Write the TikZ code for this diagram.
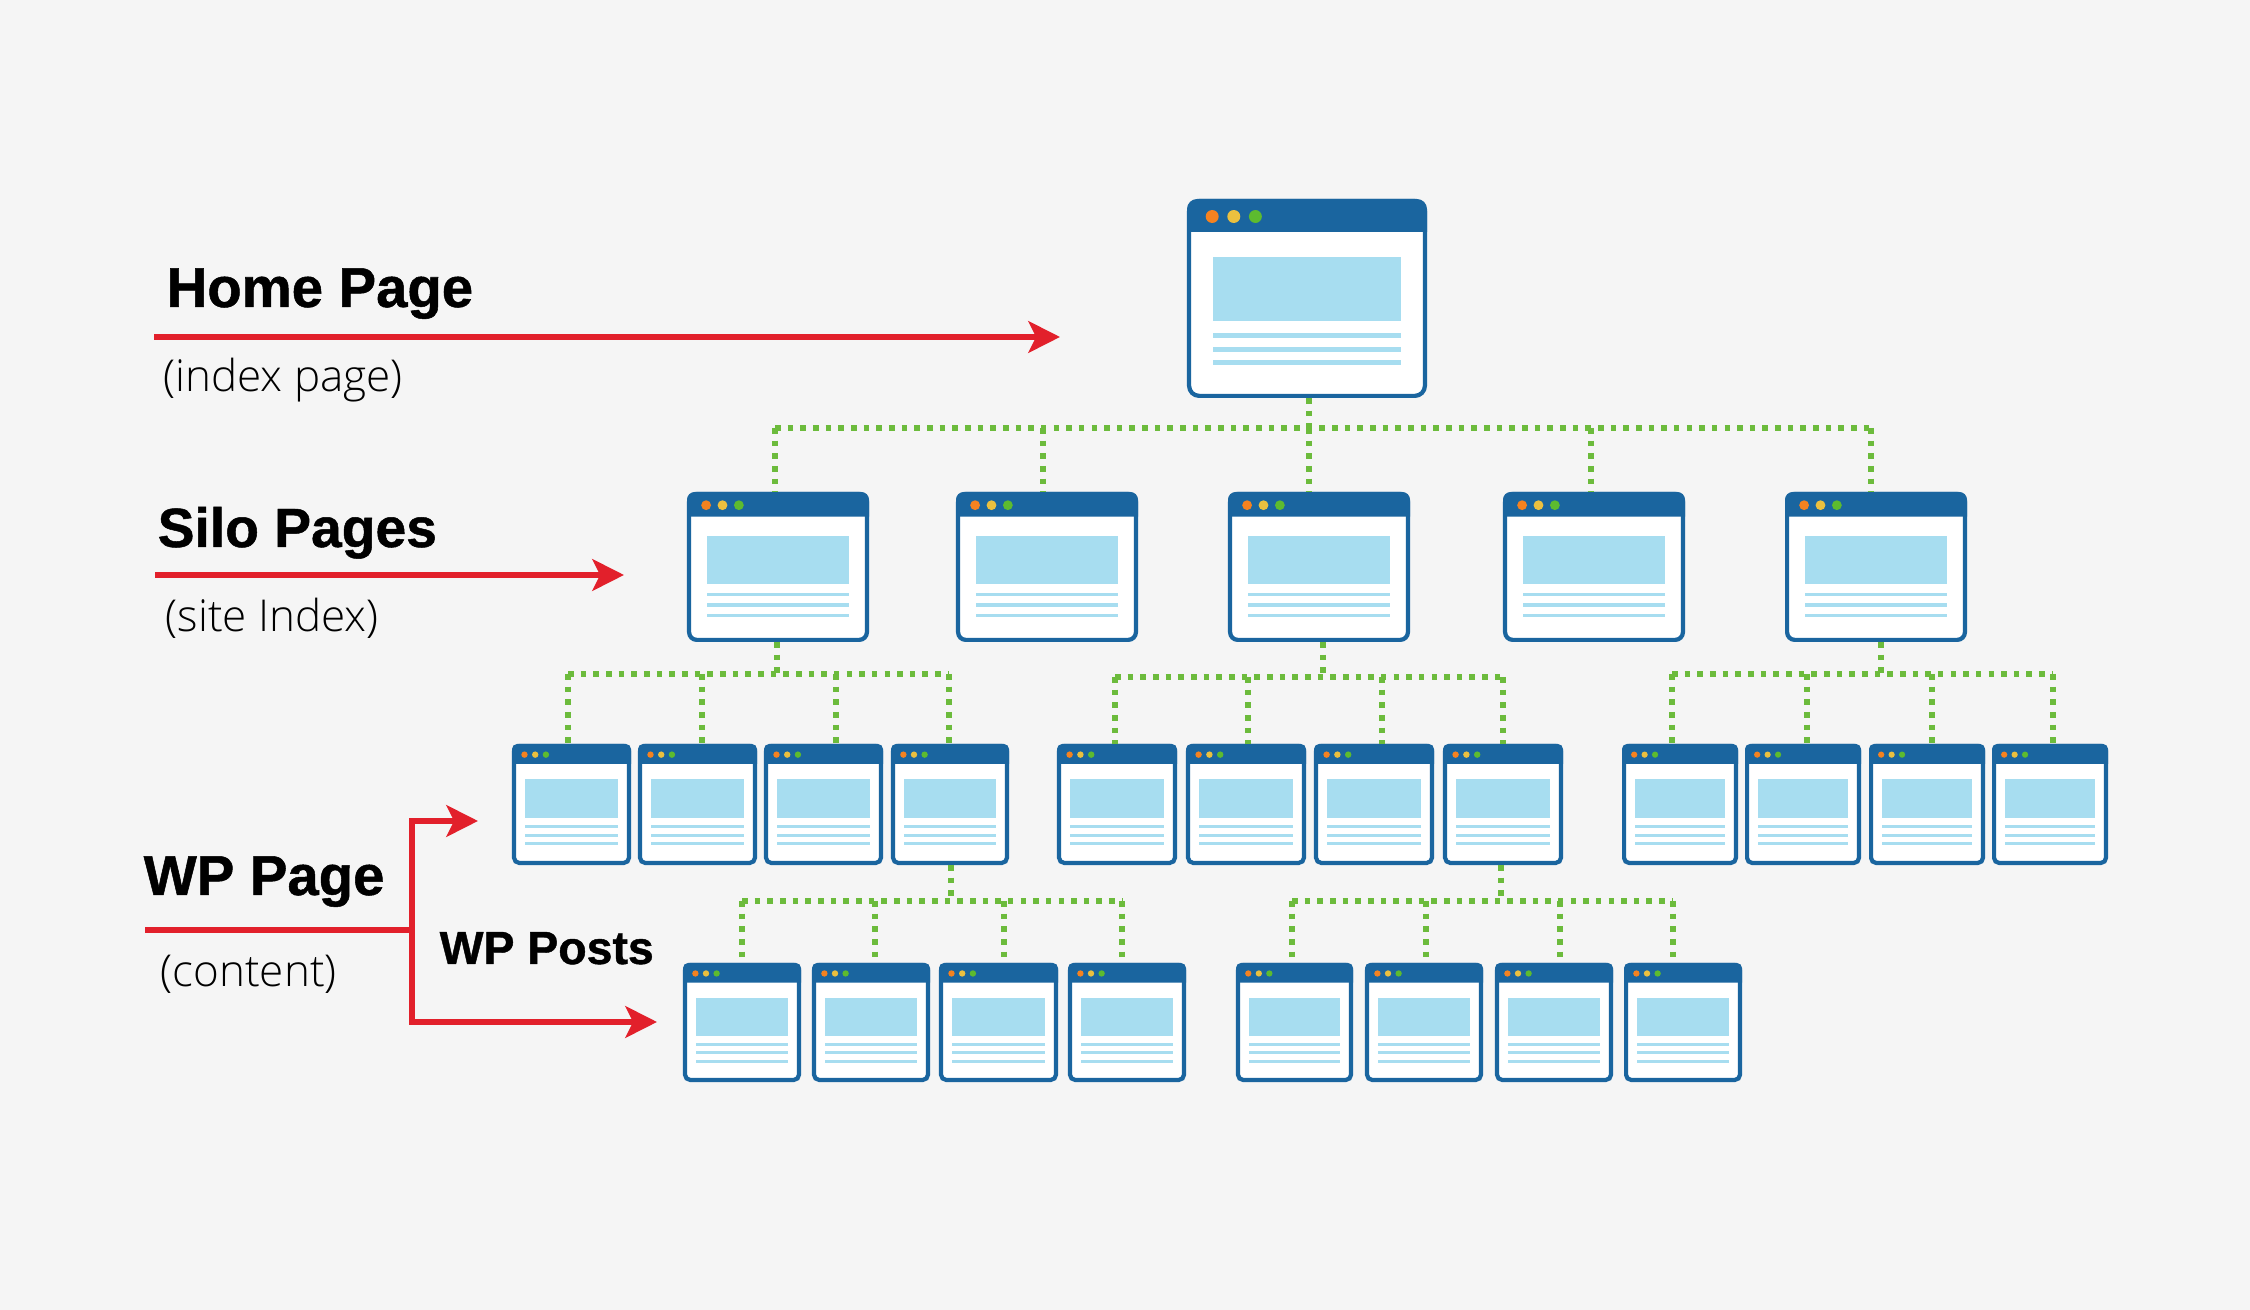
\documentclass[tikz,border=0pt]{standalone}
\usepackage{fontspec}
\setsansfont{Liberation Sans}
\newfontfamily\headfont[FakeBold=0.9]{Liberation Sans Bold}
\newfontfamily\notefont{Open Sans Light}
\usetikzlibrary{arrows.meta}

\definecolor{pageback}{HTML}{F5F5F5}
\definecolor{framecol}{HTML}{1A659F}
\definecolor{panelcol}{HTML}{A7DDF0}
\definecolor{linkcol}{HTML}{6CBB3C}
\definecolor{arrowcol}{HTML}{E2202B}
\definecolor{dotone}{HTML}{F58220}
\definecolor{dottwo}{HTML}{EBC03F}
\definecolor{dotthree}{HTML}{5DBB2F}

\tikzset{
	sitebox/.style={draw=framecol, fill=white, line width=1.2pt, inner sep=0pt, rectangle},
	sitelink/.style={draw=linkcol, line width=1.7pt, dash pattern=on 1.6pt off 2pt},
	redline/.style={draw=arrowcol, line width=1.5pt},
	redarrow/.style={redline, -{Stealth[length=9pt, width=9pt, inset=2.2pt]}},
	headlabel/.style={anchor=base west, inner sep=0pt, font=\headfont\fontsize{16}{20}\selectfont},
	notelabel/.style={anchor=base west, inner sep=0pt, font=\notefont\fontsize{12.5}{16}\selectfont}
}

% name, left, right, top, bottom (all in pixels)
\newcommand{\sitepage}[5]{
	\pgfmathsetmacro{\pw}{#3-#2}
	\pgfmathsetmacro{\ph}{#5-#4}
	\pgfmathsetmacro{\radius}{0.042*\pw}
	\node[sitebox, rounded corners=\radius*0.01cm, minimum width=(\pw-4.2)*0.01cm, minimum height=(\ph-4.2)*0.01cm] (#1) at ({(#2+#3)/2},{(#4+#5)/2}) {};
	\fill[framecol] (#2,#4+0.165*\ph) [rounded corners=\radius*0.01cm] -- (#2,#4) -- (#3,#4) [sharp corners] -- (#3,#4+0.165*\ph) -- cycle;
	\foreach \dotx/\dotcol in {0.105/dotone, 0.195/dottwo, 0.285/dotthree}
		\fill[\dotcol] (#2+\dotx*\pw,#4+0.088*\ph) circle ({0.027*\pw});
	\fill[panelcol] (#2+0.11*\pw,#4+0.293*\ph) rectangle (#3-0.11*\pw,#4+0.612*\ph);
	\foreach \liney in {0.684, 0.754, 0.824}
		\fill[panelcol] (#2+0.11*\pw,#4+\liney*\ph-0.0125*\ph) rectangle (#3-0.11*\pw,#4+\liney*\ph+0.0125*\ph);
}

\begin{document}
\begin{tikzpicture}[x=0.01cm, y=-0.01cm]
	\fill[pageback] (0,0) rectangle (2250,1310);
	\useasboundingbox (0,0) rectangle (2250,1310);

	\sitepage{home}{1187}{1427}{199}{398}
	\foreach \lx[count=\j] in {687, 956, 1228, 1503, 1785}
	{
		\pgfmathsetmacro{\rx}{\lx+182}
		\sitepage{silo\j}{\lx}{\rx}{492}{642}
	}
	\foreach \lx/\rx[count=\j] in {512/631, 638/757, 764/883, 891/1009, 1057/1177, 1186/1306, 1314/1434, 1443/1563, 1622/1738, 1745/1861, 1869/1985, 1992/2108}
	{
		\sitepage{wppage\j}{\lx}{\rx}{744}{865}
	}
	\foreach \lx/\rx[count=\j] in {683/801, 812/930, 939/1058, 1068/1186, 1236/1353, 1365/1483, 1495/1613, 1624/1742}
	{
		\sitepage{wppost\j}{\lx}{\rx}{963}{1082}
	}

	\foreach \parent/\stemx/\trunky/\leftx/\rightx/\drops in {
		home/1309/428/775/1871/{775/silo1, 1043/silo2, 1309/silo3, 1591/silo4, 1871/silo5},
		silo1/777/674/568/949/{568/wppage1, 702/wppage2, 836/wppage3, 949/wppage4},
		silo3/1323/677/1115/1503/{1115/wppage5, 1248/wppage6, 1382/wppage7, 1503/wppage8},
		silo5/1881/674/1672/2053/{1672/wppage9, 1807/wppage10, 1932/wppage11, 2053/wppage12},
		wppage4/951/901/742/1122/{742/wppost1, 875/wppost2, 1004/wppost3, 1122/wppost4},
		wppage8/1501/901/1292/1673/{1292/wppost5, 1426/wppost6, 1560/wppost7, 1673/wppost8}}
	{
		\coordinate (hub) at (\stemx,\trunky);
		\draw[sitelink] (hub |- \parent.south) -- (hub);
		\draw[sitelink] (\leftx,\trunky) -- (\rightx,\trunky);
		\foreach \dropx/\child in \drops
		{
			\coordinate (drop) at (\dropx,\trunky);
			\draw[sitelink] (drop) -- (drop |- \child.north);
		}
	}

	\node[headlabel] (homelabel) at (166,307) {Home Page};
	\node[notelabel] (homenote) at (163,392) {(index page)};
	\node[headlabel, font=\headfont\fontsize{15.7}{20}\selectfont] (silolabel) at (157,547) {Silo Pages};
	\node[notelabel] (silonote) at (165,632) {(site Index)};
	\node[headlabel] (pagelabel) at (143,895) {WP Page};
	\node[notelabel] (pagenote) at (160,987) {(content)};
	\node[headlabel, font=\headfont\fontsize{13.2}{16}\selectfont] (postlabel) at (439,964) {WP Posts};

	\coordinate (homestart) at (154,337);
	\coordinate (homeend) at (1060,337);
	\coordinate (silostart) at (155,575);
	\coordinate (siloend) at (624,575);
	\coordinate (pagestart) at (145,930);
	\coordinate (bend) at (412,930);
	\coordinate (pageend) at (478,821);
	\coordinate (postend) at (657,1022);
	\draw[redarrow] (homestart) -- (homeend);
	\draw[redarrow] (silostart) -- (siloend);
	\draw[redline] (pagestart) -- (bend);
	\draw[redarrow] (bend |- pageend) -- (pageend);
	\draw[redarrow] (bend |- postend) -- (postend);
	\draw[redline, line cap=rect] (bend |- pageend) -- (bend |- postend);
\end{tikzpicture}
\end{document}
